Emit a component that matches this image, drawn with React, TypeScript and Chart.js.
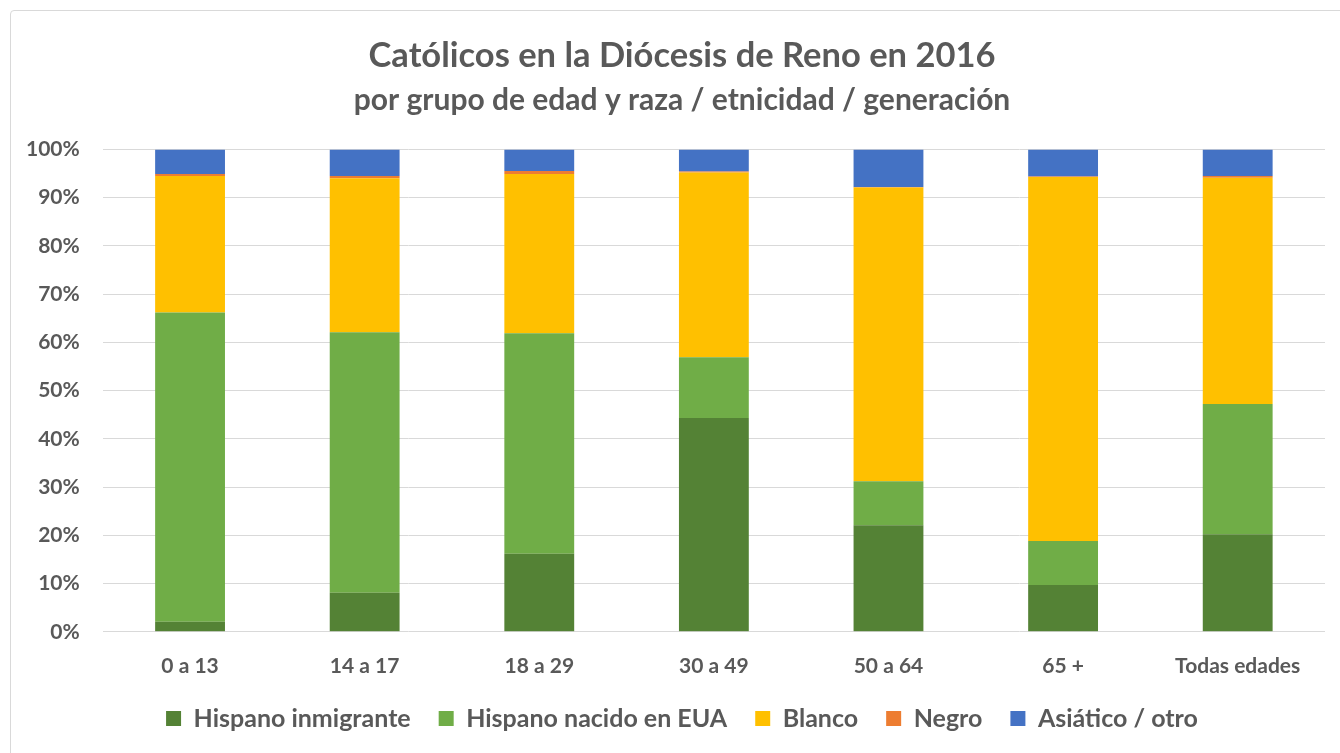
import React, { useEffect, useRef } from "react";
import { Chart, registerables } from "chart.js";

Chart.register(...registerables);

const categories = ["0 a 13", "14 a 17", "18 a 29", "30 a 49", "50 a 64", "65 +", "Todas edades"];
const hispanoInmigrante = [2.1, 8.1, 16.2, 44.3, 22.1, 9.7, 20.2];
const hispanoNacido = [64.1, 54.0, 45.7, 12.6, 9.1, 9.1, 27.0];
const blanco = [28.3, 31.9, 33.0, 38.3, 60.9, 75.5, 46.9];
const negro = [0.4, 0.5, 0.6, 0.2, 0.1, 0.1, 0.4];
const asiatico = [5.1, 5.5, 4.5, 4.6, 7.8, 5.6, 5.5];

const seriesNames = ["Hispano inmigrante", "Hispano nacido en EUA", "Blanco", "Negro", "Asiático / otro"];
const seriesColors = ["#548235", "#70AD47", "#FFC000", "#ED7D31", "#4472C4"];

const FONT = "Lato, 'Liberation Sans', sans-serif";
const TEXT = "#595959";
const LEGEND_PAD = 28;
const LEGEND_TRIM = 15;

const legendSpacing = {
  id: "legendSpacing",
  beforeLayout(chart: any) {
    const lg = chart.legend;
    if (lg && !lg.__patched) {
      const orig = lg.fit.bind(lg);
      lg.fit = function () {
        orig();
        this.height -= LEGEND_TRIM;
      };
      lg.__patched = true;
    }
  },
  afterLayout(chart: any) {
    const lg = chart.legend;
    if (lg) {
      lg.top -= LEGEND_TRIM;
      lg.height += LEGEND_TRIM;
    }
  },
};

export default function App() {
  const ref = useRef<HTMLCanvasElement | null>(null);
  useEffect(() => {
    if (!ref.current) return;
    const values = [hispanoInmigrante, hispanoNacido, blanco, negro, asiatico];
    const chart = new Chart(ref.current, {
      type: "bar",
      data: {
        labels: categories,
        datasets: values.map((v, i) => ({
          label: seriesNames[i],
          data: v,
          backgroundColor: seriesColors[i],
          borderWidth: 0,
          categoryPercentage: 0.4,
          barPercentage: 1,
        })),
      },
      plugins: [legendSpacing],
      options: {
        animation: false,
        responsive: false,
        maintainAspectRatio: false,
        layout: { padding: { left: 28, right: 15, top: 24, bottom: 11 } },
        plugins: {
          title: {
            display: true,
            text: "Católicos en la Diócesis de Reno en 2016",
            color: TEXT,
            font: { family: FONT, size: 34.5, weight: "bold" },
            padding: { top: 0, bottom: 4 },
          },
          subtitle: {
            display: true,
            text: "por grupo de edad y raza / etnicidad / generación",
            color: TEXT,
            font: { family: FONT, size: 30, weight: "bold" },
            padding: { top: 2, bottom: 31 },
          },
          legend: {
            position: "bottom",
            labels: {
              color: TEXT,
              font: { family: FONT, size: 25, weight: "bold" },
              boxWidth: 15,
              boxHeight: 15,
              padding: LEGEND_PAD,
            },
          },
          tooltip: { enabled: false },
        },
        scales: {
          x: {
            stacked: true,
            grid: { display: false },
            border: { display: false },
            ticks: {
              color: TEXT,
              font: { family: FONT, size: 21, weight: "bold" },
              padding: 14,
            },
          },
          y: {
            stacked: true,
            min: 0,
            max: 100,
            border: { display: false },
            grid: { color: "#D9D9D9", lineWidth: 1, drawTicks: false },
            afterFit: (scale: any) => {
              scale.width -= 36;
              scale._computeLabelArea = () => undefined;
            },
            ticks: {
              stepSize: 10,
              color: TEXT,
              font: { family: FONT, size: 21, weight: "bold" },
              padding: 23,
              callback: (v: any) => v + "%",
            },
          },
        },
      },
    });
    return () => chart.destroy();
  }, []);
  return (
    <div
      style={{
        position: "absolute",
        left: 10,
        top: 10,
        width: 1340,
        height: 750,
        border: "1px solid #D9D9D9",
        borderRadius: 4,
        background: "#fff",
        boxSizing: "border-box",
        overflow: "hidden",
      }}
    >
      <canvas ref={ref} width={1329} height={741} style={{ display: "block" }} />
    </div>
  );
}
